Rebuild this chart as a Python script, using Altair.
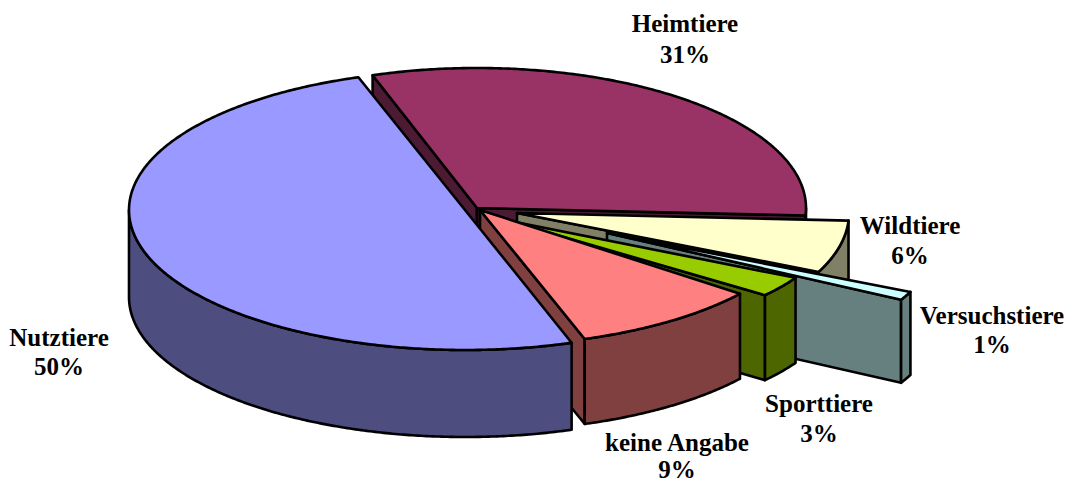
import math
import altair as alt

# Values (the labels show them rounded)
names = ["Heimtiere", "Wildtiere", "Versuchstiere", "Sporttiere", "keine Angabe", "Nutztiere"]
shares = [31.0, 6.0, 1.0, 2.7, 9.3, 50.0]
percent_labels = ["31%", "6%", "1%", "3%", "9%", "50%"]
top_colors = ["#993366", "#ffffcc", "#ccffff", "#99cc00", "#ff8080", "#9999ff"]
wall_colors = ["#4d1a33", "#808066", "#668080", "#4d6600", "#804040", "#4d4d80"]

# Drawing geometry of the exploded pseudo-3D pie (page pixels)
first_angle = -18.5
centers_x = [477, 517, 607, 505, 480, 465]
centers_y = [208, 213, 233, 220, 210, 210]
radii_x = [329, 332, 334, 330, 330, 336]
radii_y = [140, 141, 141, 122, 136, 140]
depths = [85, 85, 83, 85, 85, 87]
label_x = [685, 910, 992, 819, 677, 59]
label_y_name = [24, 226, 316, 404, 443, 338]
label_y_pct = [55, 256, 345, 434, 470, 367]


def feature(ring, fill):
    ring = [list(p) for p in ring] + [list(ring[0])]
    return {"type": "Feature", "properties": {"fill": fill},
            "geometry": {"type": "Polygon", "coordinates": [ring]}}


features = []
angle = first_angle
for i, share in enumerate(shares):
    a0, a1 = angle, angle + share * 3.6
    angle = a1
    cx, cy, rx, ry, d = centers_x[i], centers_y[i], radii_x[i], radii_y[i], depths[i]

    def pt(a):
        t = math.radians(a)
        return (cx + rx * math.sin(t), cy - ry * math.cos(t))

    def down(p):
        return (p[0], p[1] + d)

    apex = (cx, cy)
    if math.sin(math.radians(a0)) < 0:
        p = pt(a0)
        features.append(feature([apex, p, down(p), down(apex)], wall_colors[i]))
    if math.sin(math.radians(a1)) > 0:
        p = pt(a1)
        features.append(feature([apex, p, down(p), down(apex)], wall_colors[i]))
    # outer wall: only the part of the rim that faces the viewer
    lo, hi = max(a0, 90), min(a1, 270)
    if hi > lo:
        n = max(2, int((hi - lo) * 2))
        arc = [pt(lo + (hi - lo) * k / n) for k in range(n + 1)]
        features.append(feature(arc + [down(q) for q in reversed(arc)], wall_colors[i]))
    n = max(2, int((a1 - a0) * 2))
    arc = [pt(a0 + (a1 - a0) * k / n) for k in range(n + 1)]
    features.append(feature([apex] + arc, top_colors[i]))

pie = alt.Chart(alt.InlineData(values=features)).mark_geoshape(
    stroke="black", strokeWidth=2.6, strokeJoin="round"
).encode(
    fill=alt.Fill("properties.fill:N", scale=None, legend=None)
).project(type="identity", scale=1, translate=[-8, -8])

rows = []
for i in range(len(names)):
    rows.append({"t": names[i], "x": label_x[i] - 8, "y": label_y_name[i] - 8})
    rows.append({"t": percent_labels[i], "x": label_x[i] - 8, "y": label_y_pct[i] - 8})

text = alt.Chart(alt.Data(values=rows)).mark_text(
    font="Liberation Serif", fontSize=25, fontWeight="bold", color="black",
    align="center", baseline="middle"
).encode(
    x=alt.X("x:Q", scale=None, axis=None),
    y=alt.Y("y:Q", scale=None, axis=None),
    text="t:N",
)

chart = alt.layer(pie, text).properties(
    width=1057, height=474, padding=0, autosize=alt.AutoSizeParams(type="none"),
    background="white"
).configure_view(stroke=None)

chart.save("out.html", embed_options={"renderer": "svg", "actions": False})
